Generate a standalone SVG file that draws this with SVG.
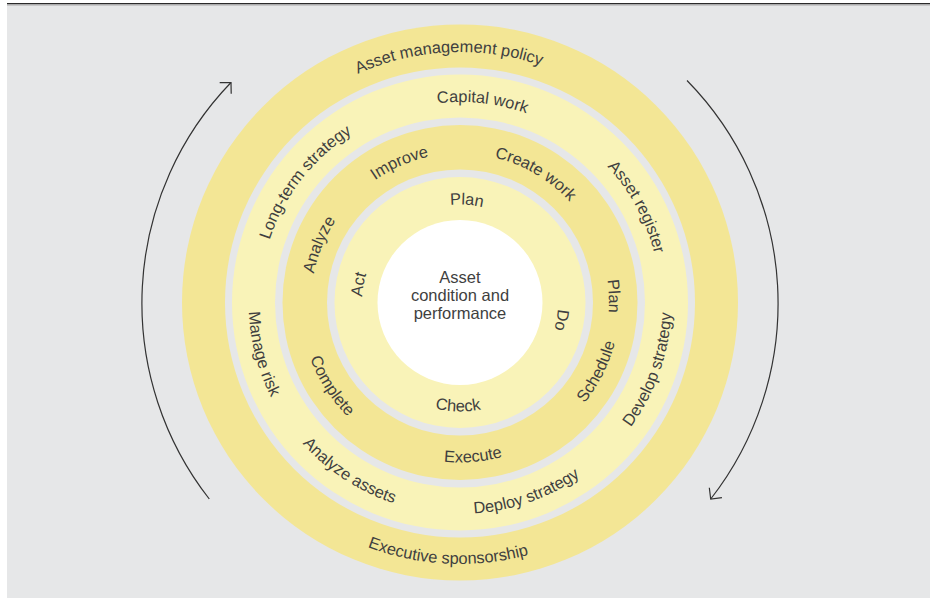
<svg xmlns="http://www.w3.org/2000/svg" xmlns:xlink="http://www.w3.org/1999/xlink" width="938" height="600" viewBox="0 0 938 600">
<style>
.lbl{font-family:"Liberation Sans",Arial,sans-serif;font-size:16.4px;fill:#3f3f3f;}
.ctr{font-family:"Liberation Sans",Arial,sans-serif;font-size:16.5px;fill:#3f3f3f;text-anchor:middle;}
.dark{fill:#F3E695;}
.light{fill:#F9F3B8;}
.gap{fill:#E6E7E8;}
.arc{fill:none;stroke:#333333;stroke-width:1.2;}
</style>
<defs>
<path id="cwO" d="M209.5,302.5 A250.5,250.5 0 0 1 710.5,302.5"/>
<path id="ccwO" d="M198.5,302.5 A261.5,261.5 0 0 0 721.5,302.5"/>
<path id="cwL" d="M259.5,302.5 A200.5,200.5 0 0 1 660.5,302.5"/>
<path id="ccwL" d="M248.5,302.5 A211.5,211.5 0 0 0 671.5,302.5"/>
<path id="cwD" d="M311,302.5 A149,149 0 0 1 609,302.5"/>
<path id="ccwD" d="M300,302.5 A160,160 0 0 0 620,302.5"/>
<path id="cwI" d="M362,302.5 A98,98 0 0 1 558,302.5"/>
<path id="ccwI" d="M351,302.5 A109,109 0 0 0 569,302.5"/>
<marker id="chev" markerUnits="userSpaceOnUse" markerWidth="20" markerHeight="20" refX="0" refY="0" orient="auto" overflow="visible">
<path d="M-8,-8 L0,0 L-8,8" fill="none" stroke="#333333" stroke-width="1.2"/>
</marker>
</defs>
<rect x="0" y="0" width="938" height="600" fill="#ffffff"/>
<rect x="7" y="4" width="923" height="594" fill="#E6E7E8"/>
<line x1="7" y1="3.6" x2="930" y2="3.6" stroke="#2a2a2a" stroke-width="1.4"/>
<line x1="7" y1="5" x2="930" y2="5" stroke="#9a9a9a" stroke-width="0.8"/>

<g id="rings">
<circle cx="460" cy="302.5" r="278" class="dark"/>
<circle cx="460" cy="302.5" r="235" class="gap"/>
<circle cx="460" cy="302.5" r="228" class="light"/>
<circle cx="460" cy="302.5" r="185" class="gap"/>
<circle cx="460" cy="302.5" r="177.5" class="dark"/>
<circle cx="460" cy="302.5" r="133" class="gap"/>
<circle cx="460" cy="302.5" r="125.5" class="light"/>
<circle cx="460" cy="302.5" r="82.5" fill="#ffffff"/>
</g>

<g id="outer-ring">
<text class="lbl" transform="rotate(-2.6 460 302.5)"><textPath xlink:href="#cwO" href="#cwO" startOffset="50%" text-anchor="middle">Asset management policy</textPath></text>
<text class="lbl" transform="rotate(2.7 460 302.5)"><textPath xlink:href="#ccwO" href="#ccwO" startOffset="50%" text-anchor="middle">Executive sponsorship</textPath></text>
</g>

<g id="strategy-ring">
<text class="lbl" transform="rotate(6.4 460 302.5)"><textPath xlink:href="#cwL" href="#cwL" startOffset="50%" text-anchor="middle">Capital work</textPath></text>
<text class="lbl" transform="rotate(61.6 460 302.5)"><textPath xlink:href="#cwL" href="#cwL" startOffset="50%" text-anchor="middle">Asset register</textPath></text>
<text class="lbl" transform="rotate(-70.5 460 302.5)"><textPath xlink:href="#ccwL" href="#ccwL" startOffset="50%" text-anchor="middle">Develop strategy</textPath></text>
<text class="lbl" transform="rotate(-19.2 460 302.5)"><textPath xlink:href="#ccwL" href="#ccwL" startOffset="50%" text-anchor="middle">Deploy strategy</textPath></text>
<text class="lbl" transform="rotate(33.2 460 302.5)"><textPath xlink:href="#ccwL" href="#ccwL" startOffset="50%" text-anchor="middle">Analyze assets</textPath></text>
<text class="lbl" transform="rotate(75.4 460 302.5)"><textPath xlink:href="#ccwL" href="#ccwL" startOffset="50%" text-anchor="middle">Manage risk</textPath></text>
<text class="lbl" transform="rotate(-52.2 460 302.5)"><textPath xlink:href="#cwL" href="#cwL" startOffset="50%" text-anchor="middle">Long-term strategy</textPath></text>
</g>

<g id="work-ring">
<text class="lbl" transform="rotate(-23.4 460 302.5)"><textPath xlink:href="#cwD" href="#cwD" startOffset="50%" text-anchor="middle">Improve</textPath></text>
<text class="lbl" transform="rotate(30.4 460 302.5)"><textPath xlink:href="#cwD" href="#cwD" startOffset="50%" text-anchor="middle">Create work</textPath></text>
<text class="lbl" transform="rotate(87.6 460 302.5)"><textPath xlink:href="#cwD" href="#cwD" startOffset="50%" text-anchor="middle">Plan</textPath></text>
<text class="lbl" transform="rotate(-63.3 460 302.5)"><textPath xlink:href="#ccwD" href="#ccwD" startOffset="50%" text-anchor="middle">Schedule</textPath></text>
<text class="lbl" transform="rotate(-4.8 460 302.5)"><textPath xlink:href="#ccwD" href="#ccwD" startOffset="50%" text-anchor="middle">Execute</textPath></text>
<text class="lbl" transform="rotate(57 460 302.5)"><textPath xlink:href="#ccwD" href="#ccwD" startOffset="50%" text-anchor="middle">Complete</textPath></text>
<text class="lbl" transform="rotate(-67.7 460 302.5)"><textPath xlink:href="#cwD" href="#cwD" startOffset="50%" text-anchor="middle">Analyze</textPath></text>
</g>

<g id="pdca-ring">
<text class="lbl" transform="rotate(3.9 460 302.5)"><textPath xlink:href="#cwI" href="#cwI" startOffset="50%" text-anchor="middle">Plan</textPath></text>
<text class="lbl" transform="rotate(99.9 460 302.5)"><textPath xlink:href="#cwI" href="#cwI" startOffset="50%" text-anchor="middle">Do</textPath></text>
<text class="lbl" transform="rotate(1 460 302.5)"><textPath xlink:href="#ccwI" href="#ccwI" startOffset="50%" text-anchor="middle">Check</textPath></text>
<text class="lbl" transform="rotate(-79.9 460 302.5)"><textPath xlink:href="#cwI" href="#cwI" startOffset="50%" text-anchor="middle">Act</textPath></text>
</g>

<g id="core">
<text class="ctr" x="460" y="283">Asset</text>
<text class="ctr" x="460" y="301">condition and</text>
<text class="ctr" x="460" y="318.5">performance</text>
</g>

<g id="connectors">
<path class="arc" d="M209.3,499 A318,318 0 0 1 231,82.5" marker-end="url(#chev)"/>
<path class="arc" d="M687,80.5 A318,318 0 0 1 710.7,499" marker-end="url(#chev)"/>
</g>
</svg>
